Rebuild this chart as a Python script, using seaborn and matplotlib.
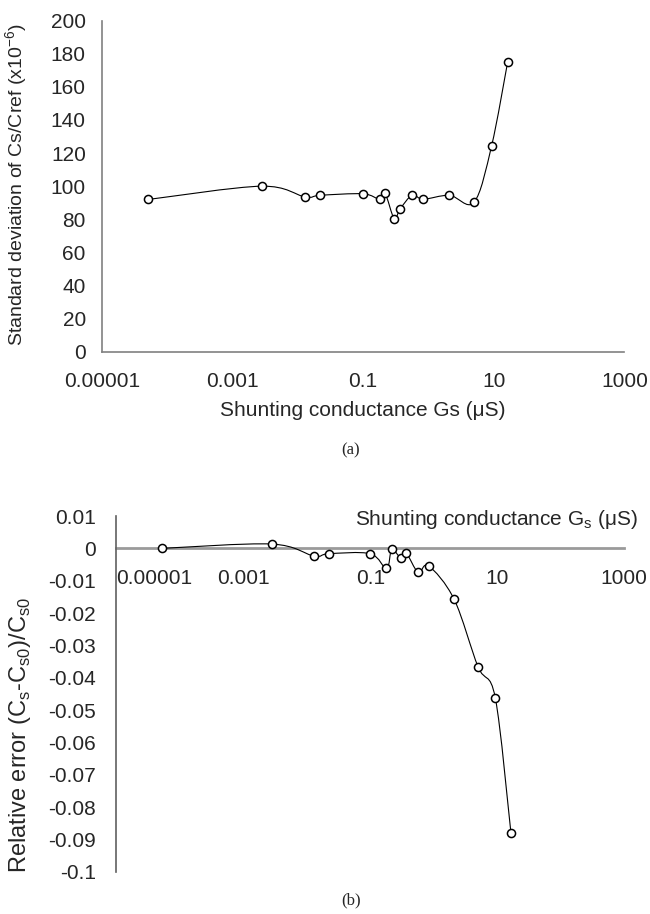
import numpy as np
import matplotlib
matplotlib.use("Agg")
import matplotlib.pyplot as plt
from matplotlib.path import Path
from matplotlib.patches import PathPatch
import seaborn as sns

# Data
gs = [5.2e-5, 0.0028, 0.013, 0.022, 0.1, 0.18, 0.218, 0.30, 0.37, 0.57, 0.83, 2.1, 5.0, 9.3, 16.4]
std_dev = [92, 100, 93.5, 94.5, 95.4, 92.1, 95.6, 80.4, 86.3, 94.7, 92.1, 94.5, 90.3, 124.4, 175.2]
rel_err = [0.0, 0.00134, -0.00238, -0.00165, -0.00165, -0.0062, -0.0003, -0.0029, -0.00155,
           -0.00745, -0.0054, -0.0158, -0.0367, -0.0462, -0.0879]

xticks = [1e-5, 1e-3, 1e-1, 10, 1000]
xticklabels = ["0.00001", "0.001", "0.1", "10", "1000"]
yticks_a = list(range(0, 201, 20))
yticks_b = [0.01, 0, -0.01, -0.02, -0.03, -0.04, -0.05, -0.06, -0.07, -0.08, -0.09, -0.1]
yticklabels_b = ["0.01", "0", "-0.01", "-0.02", "-0.03", "-0.04", "-0.05", "-0.06",
                 "-0.07", "-0.08", "-0.09", "-0.1"]

sns.set_style("white")
plt.rcParams["font.family"] = ["Liberation Sans", "DejaVu Sans"]
plt.rcParams["mathtext.fontset"] = "custom"
plt.rcParams["mathtext.rm"] = "Liberation Sans"

GRAY = "#808080"
FS = 15


def smooth_path(x, y):
    """Excel-style smoothed line: cubic Bezier through the points in log-x space."""
    lx = np.log10(np.asarray(x, float))
    ly = np.asarray(y, float)
    n = len(lx)
    verts = [(x[0], y[0])]
    codes = [Path.MOVETO]
    for i in range(n - 1):
        p0 = max(i - 1, 0)
        p3 = min(i + 2, n - 1)
        c1x = lx[i] + (lx[i + 1] - lx[p0]) / 6
        c1y = ly[i] + (ly[i + 1] - ly[p0]) / 6
        c2x = lx[i + 1] - (lx[p3] - lx[i]) / 6
        c2y = ly[i + 1] - (ly[p3] - ly[i]) / 6
        verts += [(10 ** c1x, c1y), (10 ** c2x, c2y), (x[i + 1], y[i + 1])]
        codes += [Path.CURVE4] * 3
    return Path(verts, codes)


fig = plt.figure(figsize=(6.5, 9.14), dpi=100)

# ---- (a) standard deviation ----
ax1 = fig.add_axes([0.1565, 0.6152, 0.804, 0.3622])
ax1.add_patch(PathPatch(smooth_path(gs, std_dev), fill=False, edgecolor="black", lw=0.8, zorder=2))
sns.scatterplot(x=gs, y=std_dev, ax=ax1, marker="o", s=34, facecolor="white",
                edgecolor="black", linewidth=1.1, zorder=3)
ax1.set_xscale("log")
ax1.set_xlim(1e-5, 1e3)
ax1.set_ylim(0, 200)
ax1.set_xticks(xticks)
ax1.set_xticklabels(xticklabels)
ax1.minorticks_off()
ax1.set_yticks(yticks_a)
ax1.tick_params(axis="x", length=3.5, width=1, color=GRAY, pad=11, labelsize=FS)
ax1.tick_params(axis="y", length=3.5, width=1, color=GRAY, pad=8, labelsize=FS)
for side in ["top", "right"]:
    ax1.spines[side].set_visible(False)
for side in ["left", "bottom"]:
    ax1.spines[side].set_color(GRAY)
    ax1.spines[side].set_linewidth(1.2)
ax1.set_ylabel("Standard deviation of Cs/Cref (x10$^{-6}$)", fontsize=14, va="center")
ax1.yaxis.set_label_coords(-0.163, 0.505)
ax1.set_xlabel("")
fig.text(363 / 650, 1 - 410 / 914, "Shunting conductance Gs (μS)", fontsize=FS,
         ha="center", va="center")
fig.text(351 / 650, 1 - 450 / 914, "(a)", fontsize=12, family="Liberation Serif",
         ha="center", va="center")

# ---- (b) relative error ----
ax2 = fig.add_axes([0.1789, 0.0463, 0.7815, 0.3891])
ax2.add_patch(PathPatch(smooth_path(gs, rel_err), fill=False, edgecolor="black", lw=0.8, zorder=2))
sns.scatterplot(x=gs, y=rel_err, ax=ax2, marker="o", s=34, facecolor="white",
                edgecolor="black", linewidth=1.1, zorder=3)
ax2.set_xscale("log")
ax2.set_xlim(1e-5, 1e3)
ax2.set_ylim(-0.1, 0.01)
ax2.set_xticks(xticks)
ax2.set_xticklabels(xticklabels)
ax2.minorticks_off()
ax2.set_yticks(yticks_b)
ax2.set_yticklabels(yticklabels_b)
ax2.spines["bottom"].set_position(("data", 0))
ax2.spines["bottom"].set_color("#9a9a9a")
ax2.spines["bottom"].set_linewidth(2)
ax2.spines["bottom"].set_zorder(1)
ax2.spines["left"].set_color("#606060")
ax2.spines["left"].set_linewidth(1.2)
for side in ["top", "right"]:
    ax2.spines[side].set_visible(False)
ax2.tick_params(axis="x", length=3.5, width=1, color=GRAY, pad=11, labelsize=FS)
ax2.tick_params(axis="y", length=4.5, width=1, color=GRAY, pad=10, labelsize=FS)
lbls = ax2.get_xticklabels()
lbls[0].set_horizontalalignment("left")
ax2.set_ylabel("Relative error (C$_\\mathregular{s}$-C$_\\mathregular{s0}$)/C$_\\mathregular{s0}$",
               fontsize=17, va="center")
ax2.yaxis.set_label_coords(-0.19, 0.384)
ax2.set_xlabel("")
ax2.text(1.027, 0.989, "Shunting conductance G$_\\mathregular{s}$ (μS)", transform=ax2.transAxes,
         fontsize=FS, ha="right", va="center")
fig.text(351 / 650, 1 - 900 / 914, "(b)", fontsize=12, family="Liberation Serif",
         ha="center", va="center")

fig.savefig("out.png", dpi=100)
